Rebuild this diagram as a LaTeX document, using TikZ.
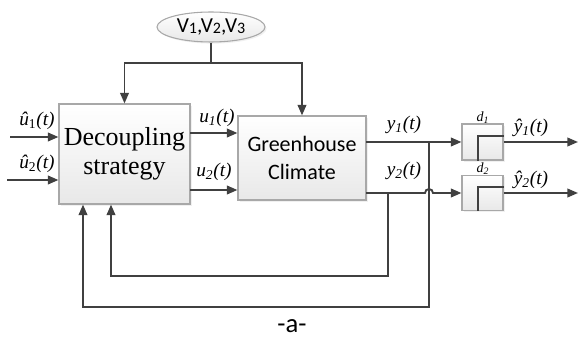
\documentclass[tikz,border=0pt]{standalone}
\usepackage{fontspec}
\setmainfont{Liberation Serif}
\newfontfamily\calfont{Carlito}
\usetikzlibrary{arrows.meta,shapes.geometric,calc,shadows}
\definecolor{linec}{HTML}{404040}
\definecolor{boxline}{HTML}{A8A8A8}
\newcommand{\vdig}[1]{{\fontsize{12}{14}\selectfont\raisebox{-1pt}{#1}}}
\begin{document}
\begin{tikzpicture}[x=0.75pt,y=-0.75pt,
  wire/.style={draw=linec,line width=1.4pt},
  arr/.style={wire,-{Triangle[length=8pt,width=6.5pt]}},
  blockbox/.style={draw=boxline,line width=0.8pt,top color=white,bottom color=black!9,
    inner sep=0pt,align=center,
    drop shadow={shadow xshift=1.2pt,shadow yshift=-1.2pt,opacity=0.12}},
  lbl/.style={inner sep=0pt,font=\fontsize{14.5}{16}\selectfont\itshape}]
\useasboundingbox (0,0) rectangle (578,338);

% blocks
\node[blockbox,minimum width=98.25pt,minimum height=75pt,
  font=\fontsize{19.5}{23}\selectfont] (dec) at (124.5,154) {Decoupling\\[-1pt]strategy};
\node[blockbox,minimum width=96pt,minimum height=63pt,
  font=\calfont\fontsize{16.5}{21}\selectfont] (gh) at (302,158) {Greenhouse\\Climate};
\node[blockbox,ellipse,minimum width=81pt,minimum height=22.5pt,
  font=\calfont\fontsize{16}{18}\selectfont] (ell) at (211,27) {V\vdig{1},V\vdig{2},V\vdig{3}};
\node[blockbox,minimum width=30.75pt,minimum height=27pt] (d1) at (482.5,142) {};
\node[blockbox,minimum width=30.75pt,minimum height=26pt] (d2) at (482.5,193) {};

% step symbols in the delay blocks
\draw[wire,line width=1.2pt] (d1.south -| 478,0) |- (d1.east |- 0,136);
\draw[wire,line width=1.2pt] (d2.south -| 478,0) |- (d2.east |- 0,187);

% disturbances
\coordinate (vj) at (211,63);
\draw[wire] (ell.south) -- (vj);
\draw[arr] (vj) -| (dec.north);
\draw[arr] (vj) -| (gh.north);

% reference inputs
\coordinate (in1) at (10,137);
\coordinate (in2) at (7,180);
\draw[arr] (in1) -- (dec.west |- in1);
\draw[arr] (in2) -- (dec.west |- in2);

% control signals
\coordinate (c1) at (190,133);
\coordinate (c2) at (190,190);
\draw[arr] (c1) -- (gh.west |- c1);
\draw[arr] (c2) -- (gh.west |- c2);

% outputs
\coordinate (o1) at (366,142);
\coordinate (o2) at (366,193);
\coordinate (t1) at (429,142);
\coordinate (t2) at (388,193);
\coordinate (e1) at (578,142);
\coordinate (e2) at (578,193);
\draw[arr] (o1) -- (d1.west |- o1);
\draw[arr] (o2) -- ($(t1 |- o2)+(-4,0)$) arc[start angle=180,end angle=0,radius=3pt]
  -- (d2.west |- o2);
\draw[arr] (d1.east |- o1) -- (e1);
\draw[arr] (d2.east |- o2) -- (e2);

% feedback paths
\coordinate (f1) at (429,307);
\coordinate (f2) at (388,276);
\draw[arr] (t1) -- (f1) -| ($(dec.south)+(-41.5,0)$);
\draw[arr] (t2) -- (f2) -| ($(dec.south)+(-13.5,0)$);

% signal labels
\node[lbl] (lu1) at (37,121) {û\textsubscript{\upshape 1}(t)};
\node[lbl] (lu2) at (37,164) {û\textsubscript{\upshape 2}(t)};
\node[lbl] (lc1) at (217,118) {u\textsubscript{1}(t)};
\node[lbl] (lc2) at (214,172) {u\textsubscript{2}(t)};
\node[lbl] (ly1) at (404,125) {y\textsubscript{1}(t)};
\node[lbl] (ly2) at (404,171) {y\textsubscript{2}(t)};
\node[lbl] (lh1) at (531,128) {ŷ\textsubscript{1}(t)};
\node[lbl] (lh2) at (531,180) {ŷ\textsubscript{2}(t)};
\node[lbl,font=\fontsize{10.5}{12}\selectfont\itshape] (ld1) at (483,118) {d\textsubscript{1}};
\node[lbl,font=\fontsize{10.5}{12}\selectfont\itshape] (ld2) at (483,169) {d\textsubscript{2}};

% caption
\node[inner sep=0pt,anchor=base,font=\calfont\fontsize{20}{24}\selectfont] (cap) at (292,332) {-a-};
\end{tikzpicture}
\end{document}
